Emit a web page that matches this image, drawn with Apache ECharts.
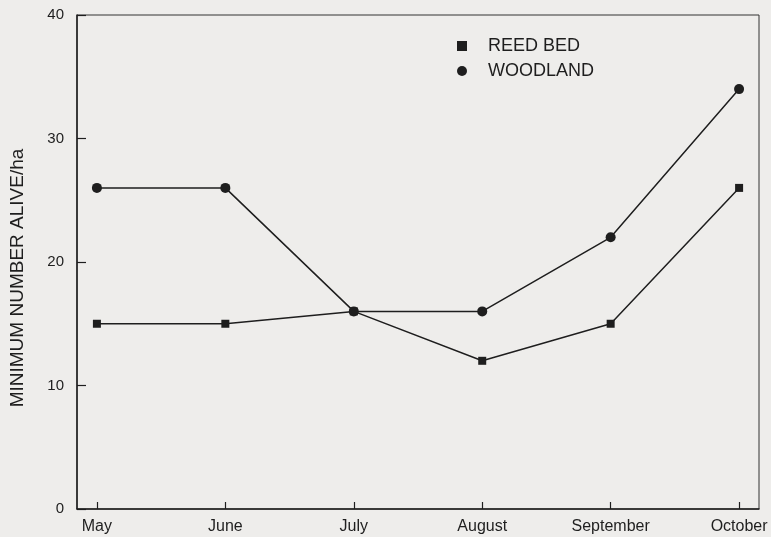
<!DOCTYPE html>
<html>
<head>
<meta charset="utf-8">
<script src="https://cdn.jsdelivr.net/npm/echarts@6/dist/echarts.min.js"></script>
<style>
  html, body { margin: 0; padding: 0; background: #eeedeb; }
  #chart { width: 771px; height: 537px; }
</style>
</head>
<body>
<div id="chart"></div>
<script>
const months = ['May', 'June', 'July', 'August', 'September', 'October'];
const reedBed = [15, 15, 16, 12, 15, 26];
const woodland = [26, 26, 16, 16, 22, 34];
const monthIdx = [0, 1, 2, 3, 4, 5];

const ink = '#1e1e1e';

function toPairs(vals) {
  return vals.map(function (v, i) { return [monthIdx[i], v]; });
}

const option = {
  backgroundColor: '#eeedeb',
  animation: false,
  textStyle: { fontFamily: 'Liberation Sans, Arial, sans-serif', color: ink },
  grid: {
    left: 73, right: 12, top: 15, bottom: 28,
    show: true, borderColor: '#333', borderWidth: 1
  },
  legend: {
    orient: 'vertical',
    left: 452, top: 32,
    itemWidth: 10, itemHeight: 10, itemGap: 7,
    textStyle: { fontSize: 18, color: ink, padding: [0, 0, 0, 16] },
    data: [
      { name: 'REED BED', icon: 'rect' },
      { name: 'WOODLAND', icon: 'circle' }
    ]
  },
  xAxis: {
    type: 'value',
    min: -0.155, max: 5.155,
    splitLine: { show: false },
    axisLine: { onZero: false, lineStyle: { color: ink, width: 1.5 } },
    axisTick: { inside: true, length: 7, customValues: monthIdx, lineStyle: { color: ink, width: 1.2 } },
    axisLabel: {
      customValues: monthIdx,
      fontSize: 16, color: ink, margin: 10,
      formatter: function (v) { return months[Math.round(v)]; }
    }
  },
  yAxis: {
    type: 'value',
    min: 0, max: 40, interval: 10,
    name: 'MINIMUM NUMBER ALIVE/ha',
    nameLocation: 'middle',
    nameGap: 50,
    nameTextStyle: { fontSize: 19, color: ink, padding: [0, 32, 0, 0] },
    splitLine: { show: false },
    axisLine: { show: true, onZero: false, lineStyle: { color: ink, width: 1.5 } },
    axisTick: { show: true, inside: true, length: 9, lineStyle: { color: ink, width: 1.2 } },
    axisLabel: { fontSize: 15, color: ink, margin: 13 }
  },
  series: [
    {
      name: 'REED BED',
      type: 'line',
      data: toPairs(reedBed),
      symbol: 'rect',
      symbolSize: 8,
      lineStyle: { color: ink, width: 1.5 },
      itemStyle: { color: ink }
    },
    {
      name: 'WOODLAND',
      type: 'line',
      data: toPairs(woodland),
      symbol: 'circle',
      symbolSize: 10,
      lineStyle: { color: ink, width: 1.5 },
      itemStyle: { color: ink }
    }
  ]
};

const myChart = echarts.init(document.getElementById('chart'));
myChart.setOption(option);
</script>
</body>
</html>
